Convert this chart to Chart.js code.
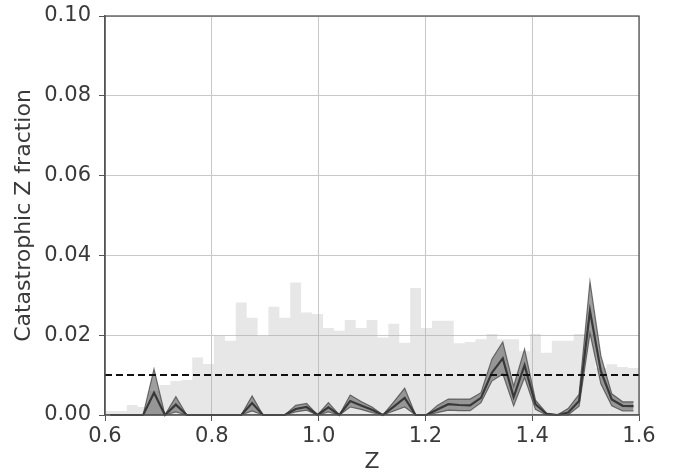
<!DOCTYPE html>
<html>
<head>
<meta charset="utf-8">
<script src="https://cdn.jsdelivr.net/npm/chart.js@4"></script>
<style>
  html, body { margin: 0; padding: 0; background: #fff; }
  #wrap { width: 680px; height: 473px; position: relative; }
</style>
</head>
<body>
<div id="wrap"><canvas id="chart"></canvas></div>
<script>
// histogram bin edges (49 bins between 0.6 and 1.6)
const binEdges = [0.6, 0.6204, 0.6408, 0.6612, 0.6816, 0.7020, 0.7224, 0.7429, 0.7633, 0.7837,
  0.8041, 0.8245, 0.8449, 0.8653, 0.8857, 0.9061, 0.9265, 0.9469, 0.9673, 0.9878,
  1.0082, 1.0286, 1.0490, 1.0694, 1.0898, 1.1102, 1.1306, 1.1510, 1.1714, 1.1918,
  1.2122, 1.2327, 1.2531, 1.2735, 1.2939, 1.3143, 1.3347, 1.3551, 1.3755, 1.3959,
  1.4163, 1.4367, 1.4571, 1.4776, 1.4980, 1.5184, 1.5388, 1.5592, 1.5796, 1.6];

// background histogram (scaled counts)
const histFrac = [0.0010, 0.0010, 0.0025, 0.0020, 0.0060, 0.0075, 0.0085, 0.0088, 0.0144, 0.0128,
  0.0198, 0.0186, 0.0282, 0.0244, 0.0198, 0.0271, 0.0244, 0.0332, 0.0257, 0.0253,
  0.0218, 0.0211, 0.0238, 0.0218, 0.0238, 0.0194, 0.0229, 0.0181, 0.0318, 0.0218,
  0.0236, 0.0236, 0.0180, 0.0183, 0.0190, 0.0203, 0.0190, 0.0190, 0.0160, 0.0203,
  0.0156, 0.0186, 0.0186, 0.0203, 0.0203, 0.0118, 0.0127, 0.0120, 0.0118];

// bin centres for the catastrophic fraction curve
const zCenters = [0.6102, 0.6306, 0.6510, 0.6714, 0.6918, 0.7122, 0.7327, 0.7531, 0.7735, 0.7939,
  0.8143, 0.8347, 0.8551, 0.8755, 0.8959, 0.9163, 0.9367, 0.9571, 0.9776, 0.9980,
  1.0184, 1.0388, 1.0592, 1.0796, 1.1000, 1.1204, 1.1408, 1.1612, 1.1816, 1.2020,
  1.2224, 1.2429, 1.2633, 1.2837, 1.3041, 1.3245, 1.3449, 1.3653, 1.3857, 1.4061,
  1.4265, 1.4469, 1.4673, 1.4878, 1.5082, 1.5286, 1.5490, 1.5694, 1.5898];

const fracMid = [0, 0, 0, 0, 0.0056, 0, 0.0026, 0, 0, 0,
  0, 0, 0, 0.0030, 0, 0, 0, 0.0015, 0.0020, 0,
  0.0019, 0, 0.0035, 0.0024, 0.0013, 0, 0.0021, 0.0043, 0, 0,
  0.0014, 0.0027, 0.0025, 0.0024, 0.0043, 0.0106, 0.0142, 0.0045, 0.0125, 0.0027,
  0.0003, 0, 0.0006, 0.0035, 0.0261, 0.0110, 0.0039, 0.0023, 0.0022];

const fracHigh = [0, 0, 0, 0, 0.0115, 0, 0.0046, 0, 0, 0,
  0, 0, 0, 0.0048, 0, 0, 0, 0.0024, 0.0029, 0,
  0.0031, 0, 0.0050, 0.0034, 0.0020, 0, 0.0033, 0.0067, 0, 0,
  0.0024, 0.0040, 0.0040, 0.0040, 0.0056, 0.0140, 0.0183, 0.0072, 0.0165, 0.0037,
  0.0005, 0, 0.0016, 0.0052, 0.0334, 0.0148, 0.0053, 0.0033, 0.0033];

const fracLow = [0, 0, 0, 0, 0, 0, 0.0008, 0, 0, 0,
  0, 0, 0, 0.0010, 0, 0, 0, 0.0008, 0.0012, 0,
  0.0008, 0, 0.0020, 0.0014, 0.0006, 0, 0.0010, 0.0020, 0, 0,
  0.0006, 0.0012, 0.0011, 0.0011, 0.0031, 0.0085, 0.0103, 0.0023, 0.0094, 0.0014,
  0, 0, 0, 0.0022, 0.0205, 0.0078, 0.0023, 0.0010, 0.0010];

const threshold = 0.01;
const xTicks = [0.6, 0.8, 1.0, 1.2, 1.4, 1.6];
const yTicks = [0, 0.02, 0.04, 0.06, 0.08, 0.10];

const pts = (xs, ys) => xs.map((x, i) => ({ x: x, y: ys[i] }));
const histPts = binEdges.map((e, i) => ({ x: e, y: histFrac[Math.min(i, histFrac.length - 1)] }));

const frame = {
  id: 'frame',
  afterDraw(chart) {
    const { ctx, chartArea: a } = chart;
    ctx.save();
    ctx.strokeStyle = '#555';
    ctx.lineWidth = 1.3;
    ctx.strokeRect(a.left, a.top, a.right - a.left, a.bottom - a.top);
    ctx.restore();
  }
};

const tickFont = { family: 'DejaVu Sans', size: 21 };
const titleFont = { family: 'DejaVu Sans', size: 22, lineHeight: 1 };

new Chart(document.getElementById('chart'), {
  type: 'line',
  data: {
    datasets: [
      {
        data: histPts, stepped: true, fill: 'origin', borderWidth: 0,
        backgroundColor: 'rgba(175,175,175,0.3)', pointRadius: 0, order: 4
      },
      {
        data: pts(zCenters, fracLow), fill: false, borderColor: 'rgba(70,70,70,0.75)',
        borderWidth: 1.2, pointRadius: 0, order: 2, clip: false
      },
      {
        data: pts(zCenters, fracHigh), fill: '-1', borderColor: 'rgba(70,70,70,0.75)',
        backgroundColor: 'rgba(95,95,95,0.6)', borderWidth: 1.2, pointRadius: 0, order: 2, clip: false
      },
      {
        data: pts(zCenters, fracMid), fill: false, borderColor: '#383838',
        borderWidth: 2.2, pointRadius: 0, order: 1, clip: false
      },
      {
        data: [{ x: xTicks[0], y: threshold }, { x: xTicks[xTicks.length - 1], y: threshold }],
        fill: false, borderColor: '#111', borderWidth: 2, borderDash: [7, 4], pointRadius: 0, order: 0
      }
    ]
  },
  options: {
    responsive: true,
    maintainAspectRatio: false,
    animation: false,
    layout: { padding: { top: 16, right: 41, bottom: 0, left: 0 } },
    plugins: { legend: { display: false }, tooltip: { enabled: false } },
    scales: {
      x: {
        type: 'linear', min: 0.6, max: 1.6,
        afterFit: (s) => { s.height = 58; },
        afterBuildTicks: (s) => { s.ticks = xTicks.map(v => ({ value: v })); },
        ticks: { font: tickFont, color: '#3a3a3a', padding: 3, callback: v => v.toFixed(1), maxRotation: 0 },
        grid: { color: '#c8c8c8', lineWidth: 1, tickColor: '#555', tickLength: 6 },
        border: { color: '#555', width: 1.3 },
        title: { display: true, text: 'Z', font: titleFont, color: '#3a3a3a', padding: { top: 0, bottom: 0 } }
      },
      y: {
        type: 'linear', min: 0, max: 0.1,
        afterFit: (s) => { s.width = 105; s.paddingTop = 0; s.paddingBottom = 0; },
        afterBuildTicks: (s) => { s.ticks = yTicks.map(v => ({ value: v })); },
        ticks: { font: tickFont, color: '#3a3a3a', padding: 8, callback: v => v.toFixed(2) },
        grid: { color: '#c8c8c8', lineWidth: 1, tickColor: '#555', tickLength: 6 },
        border: { color: '#555', width: 1.3 },
        title: { display: true, text: 'Catastrophic Z fraction', font: titleFont, color: '#3a3a3a', padding: { top: 13, bottom: 0 } }
      }
    }
  },
  plugins: [frame]
});
</script>
</body>
</html>
